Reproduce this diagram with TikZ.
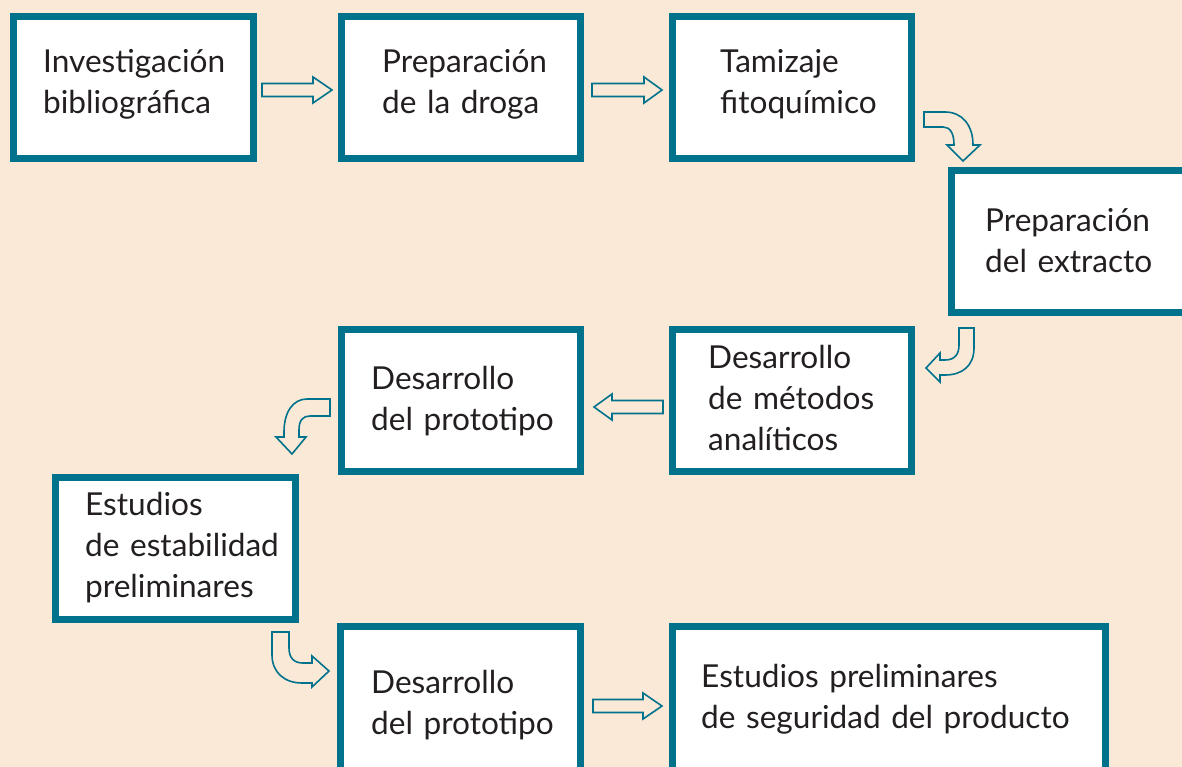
\documentclass[tikz,border=0pt]{standalone}
\usepackage{fontspec}
\setmainfont{Lato}
\definecolor{bgc}{HTML}{FBE9D8}
\definecolor{teal}{HTML}{00728C}
\definecolor{ink}{HTML}{231F20}
\tikzset{
  box/.style={draw=teal, line width=7pt, fill=white, rectangle, inner sep=0pt, anchor=north west},
  txt/.style={anchor=base west, inner sep=0pt, text width=450pt, align=left, text=ink,
     font=\fontsize{31.6}{41}\selectfont},
  blockarrow/.style={draw=teal, line width=1.6pt, fill=bgc, line join=miter}
}
\begin{document}
\begin{tikzpicture}[x=1pt,y=-1pt]
\useasboundingbox (0,0) rectangle (1182,767);
\clip (0,0) rectangle (1182,767);
\fill[bgc] (0,0) rectangle (1182,767);
% boxes: anchored at outer corners
\node[box, minimum width=240pt, minimum height=142pt] (b1) at (10,13) {};
\node[box, minimum width=239pt, minimum height=142pt] (b2) at (338,13) {};
\node[box, minimum width=239pt, minimum height=142pt] (b3) at (669,13) {};
\node[box, minimum width=260pt, minimum height=142pt] (b4) at (948,167) {};
\node[box, minimum width=239pt, minimum height=142pt] (b5) at (669,326) {};
\node[box, minimum width=239pt, minimum height=142pt] (b6) at (338,326) {};
\node[box, minimum width=240pt, minimum height=142pt] (b7) at (52,474) {};
\node[box, minimum width=240pt, minimum height=170pt] (b8) at (337,623) {};
\node[box, minimum width=433pt, minimum height=170pt] (b9) at (669,623) {};
% texts
\node[txt] (t1) at (43,73) {Investigación\\bibliográfica};
\node[txt] (t2) at (382,73) {Preparación\\de la droga};
\node[txt] (t3) at (720,73) {Tamizaje\\fitoquímico};
\node[txt] (t4) at (985,232) {Preparación\\del extracto};
\node[txt] (t5) at (708,368) {Desarrollo\\de métodos\\analíticos};
\node[txt] (t6) at (371,389) {Desarrollo\\del prototipo};
\node[txt] (t7) at (85,515) {Estudios\\de estabilidad\\preliminares};
\node[txt] (t8) at (371,693) {Desarrollo\\del prototipo};
\node[txt] (t9) at (701,687) {Estudios preliminares\\de seguridad del producto};
% straight block arrows
\draw[blockarrow] (262,83.5) -- (313,83.5) -- (313,77) -- (332,90) -- (313,103) -- (313,96.5) -- (262,96.5) -- cycle;
\draw[blockarrow] (592,83.5) -- (644,83.5) -- (644,77) -- (662,90) -- (644,103) -- (644,96.5) -- (592,96.5) -- cycle;
\draw[blockarrow] (663,400.5) -- (612,400.5) -- (612,394) -- (594,407) -- (612,420) -- (612,413.5) -- (663,413.5) -- cycle;
\draw[blockarrow] (593,699.5) -- (643,699.5) -- (643,693) -- (662,706) -- (643,719) -- (643,712.5) -- (593,712.5) -- cycle;
% curved block arrows
\draw[blockarrow] (924,112) -- (945,112) .. controls (962,112) and (973,125) .. (973,145)
  -- (980,145) -- (963,161) -- (947,145) -- (954,145) .. controls (954,133) and (950,127) .. (943,127)
  -- (924,127) -- cycle;
\draw[blockarrow] (959,328) -- (974,328) -- (974,348) .. controls (974,366) and (962,375) .. (945,375)
  -- (940,375) -- (940,382) -- (926,368) -- (940,353) -- (940,360) -- (945,360)
  .. controls (955,360) and (959,354) .. (959,345) -- cycle;
\draw[blockarrow] (330,399) -- (307,399) .. controls (293,399) and (284,412) .. (284,432)
  -- (284,437) -- (276,437) -- (292,454) -- (306,437) -- (299,437) -- (299,430)
  .. controls (299,420) and (303,416) .. (310,416) -- (330,416) -- cycle;
\draw[blockarrow] (272,632) -- (289,632) -- (289,648) .. controls (289,658) and (294,663) .. (303,663)
  -- (312,663) -- (312,656) -- (329,671) -- (312,687) -- (312,683) -- (302,683)
  .. controls (284,683) and (272,672) .. (272,655) -- cycle;
\end{tikzpicture}
\end{document}
